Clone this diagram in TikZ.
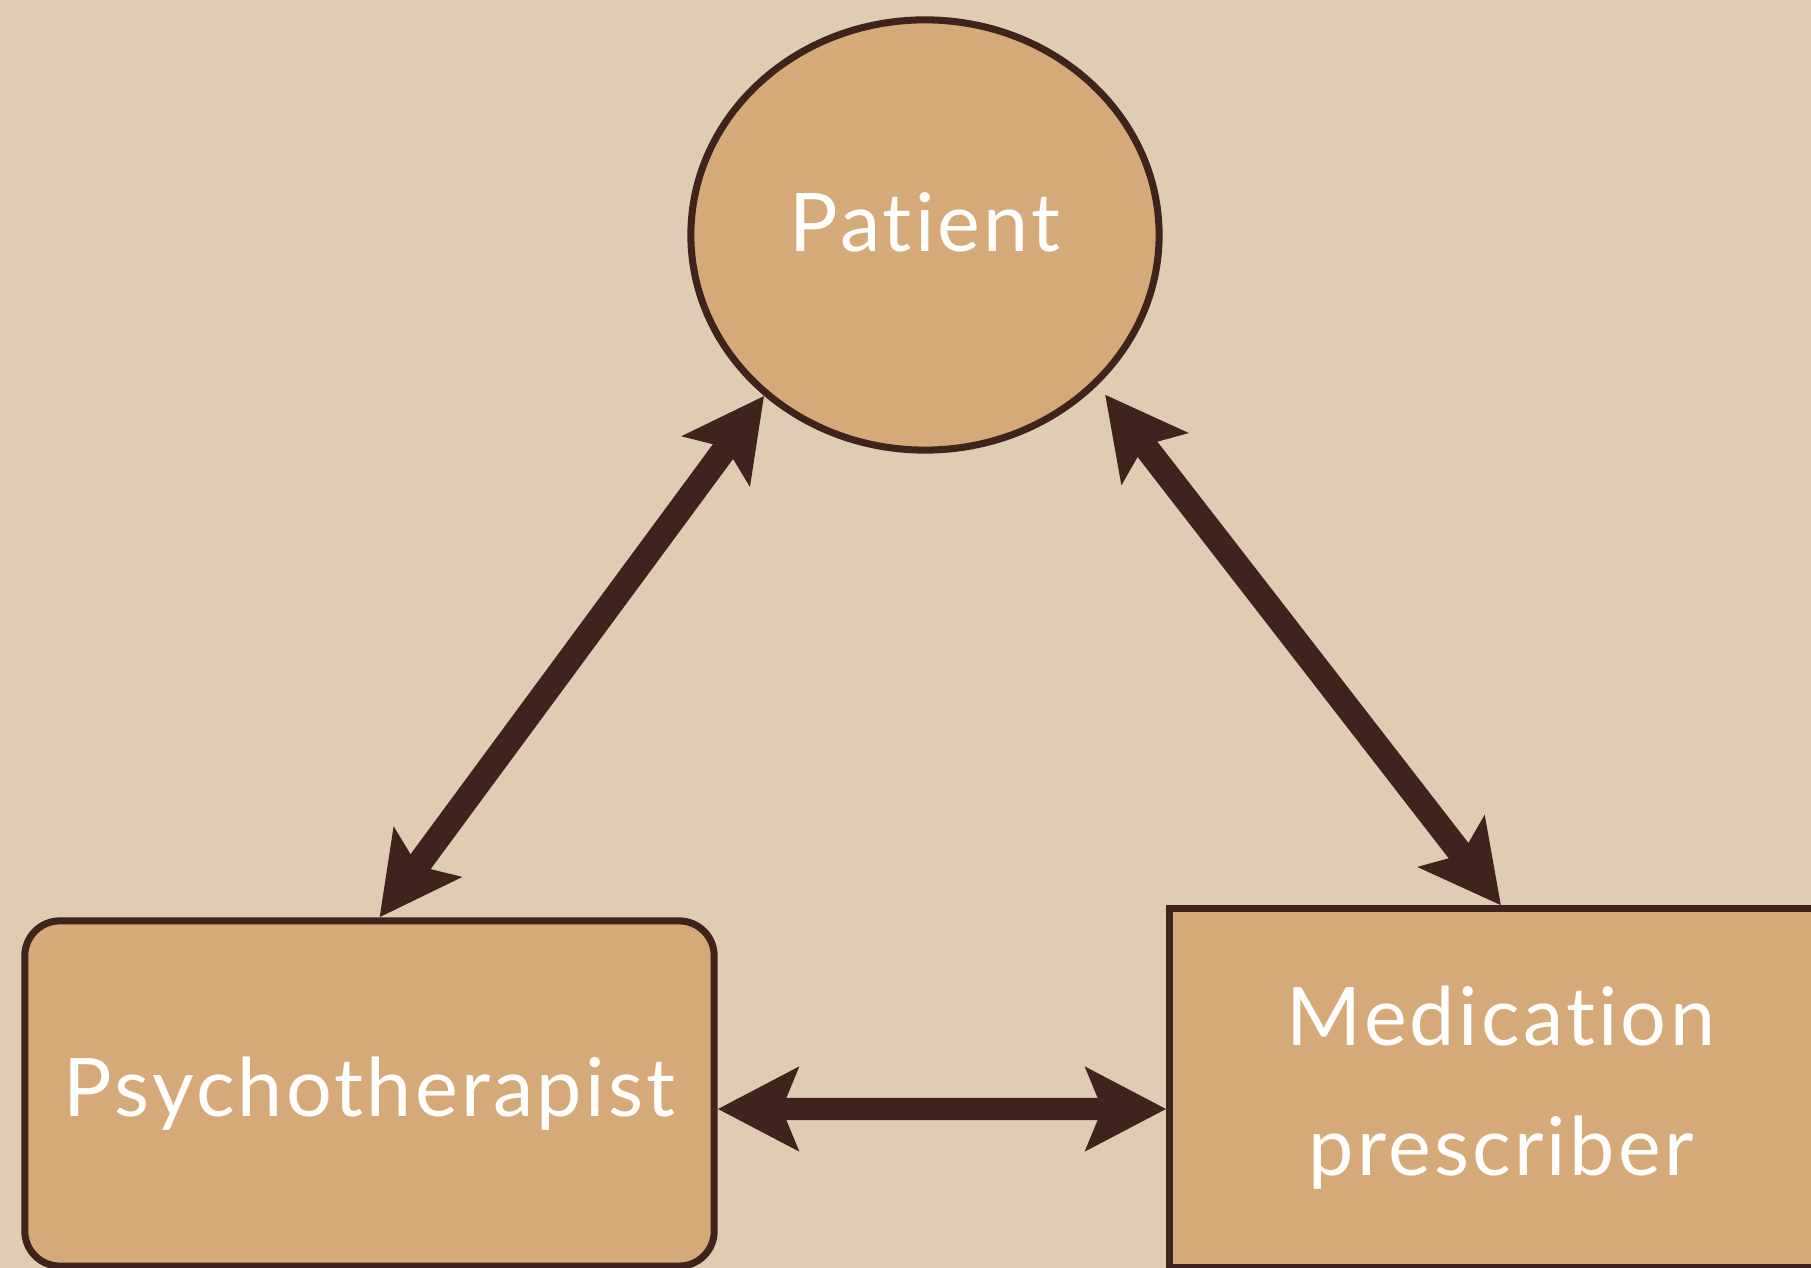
\documentclass[tikz,border=0pt]{standalone}
\usepackage{fontspec}
\setmainfont{Lato}[Ligatures=NoCommon,LetterSpace=4]
\usepackage{xcolor}
\usepackage{tikz}
\usetikzlibrary{arrows.meta,positioning,shapes.geometric}
\definecolor{cPaper}{HTML}{DECDB4}
\definecolor{cTan}{HTML}{D6AA78}
\definecolor{cBrown}{HTML}{3E241C}
\tikzset{
  pbox/.style={draw=cBrown,fill=cTan,line width=2pt,text=white,align=center,inner sep=0pt,font=\fontsize{23}{37}\selectfont},
  oval/.style={pbox,ellipse,minimum width=4.68cm,minimum height=4.30cm},
  card/.style={pbox,rectangle,minimum width=#1},
  arr/.style={{Stealth[length=0.8cm,width=0.82cm,inset=0.16cm]}-{Stealth[length=0.8cm,width=0.82cm,inset=0.16cm]},line width=0.22cm,color=cBrown},
}
\begin{document}
\begin{tikzpicture}[x=0.01cm,y=-0.01cm]
  % paper background, fixes the page size
  \fill[cPaper] (0,0) rectangle (1811,1268);
  \useasboundingbox (0,0) rectangle (1811,1268);
  \clip (0,0) rectangle (1811,1268);
  % the three parties
  \node[oval,text depth=0.25cm] (pat) at (925,235) {Patient};
  \node[card=6.89cm,minimum height=3.45cm,rounded corners=0.35cm] (psy) at (369.5,1093.5) {Psychotherapist};
  \node[card=6.62cm,minimum height=3.58cm] (med) at (1501,1088) {Medication\\prescriber};
  % two-way links
  \draw[arr,line width=0.25cm] ([xshift=0.1cm]psy.north) -- (pat.225.5);
  \draw[arr,line width=0.25cm,shorten >=0.12cm] (med.north) -- (pat.-41.4);
  \draw[arr] ([yshift=-0.155cm]psy.east) -- ([yshift=-0.21cm]med.west);
\end{tikzpicture}
\end{document}
